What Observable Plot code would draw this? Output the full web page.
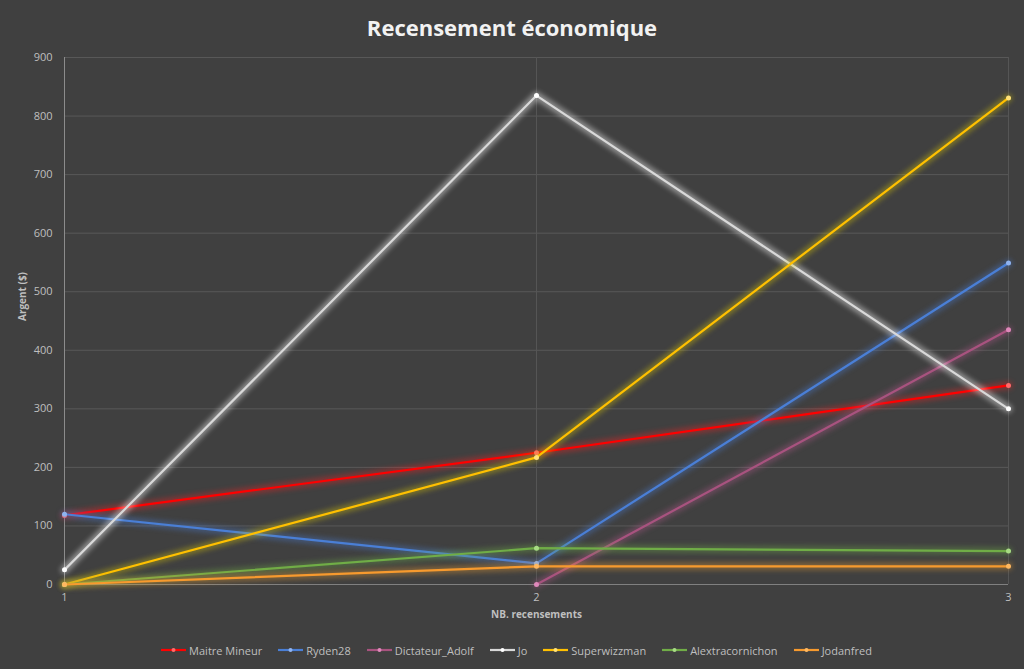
<!DOCTYPE html>
<html>
<head>
<meta charset="utf-8">
<script src="https://cdn.jsdelivr.net/npm/d3@7"></script>
<script src="https://cdn.jsdelivr.net/npm/@observablehq/plot@0.6"></script>
<style>
  html, body { margin: 0; padding: 0; background: #404040; }
  body { width: 1024px; height: 669px; overflow: hidden; font-family: "Open Sans", "Noto Sans", sans-serif; }
  #title { height: 50px; line-height: 54px; text-align: center; color: #f2f2f2; font-size: 22px; font-weight: bold; }
  #chart svg { display: block; }
  .glow { filter: blur(2.5px); }
  #legend { display: flex; justify-content: center; gap: 15px; height: 30px; align-items: center; color: #bfbfbf; font-size: 11px; padding-left: 8px; }
  #legend .item { display: flex; align-items: center; gap: 2px; }
</style>
</head>
<body>
<div id="title">Recensement économique</div>
<div id="chart"></div>
<div id="legend"></div>
<script>
const recensements = [1, 2, 3];
const series = ["Maitre Mineur", "Ryden28", "Dictateur_Adolf", "Jo", "Superwizzman", "Alextracornichon", "Jodanfred"];
const maitreMineur = [118, 225, 340];
const ryden28 = [120, 36, 549];
const dictateurAdolf = [null, 0, 435];
const jo = [25, 835, 300];
const superwizzman = [0, 217, 831];
const alextracornichon = [0, 62, 57];
const jodanfred = [0, 31, 31];
const yTicks = [0, 100, 200, 300, 400, 500, 600, 700, 800, 900];

const lineColors = ["#ff0000", "#4a7fd6", "#a8537f", "#d9d9d9", "#ffc000", "#70ad47", "#f79a2e"];
const dotColors = ["#ff6a6a", "#8fb3f0", "#e088bb", "#ffffff", "#ffe27a", "#a8dc84", "#ffb860"];
const glowColors = ["#ff2020", "#4a7fd6", "#b5598c", "#ffffff", "#e6d000", "#70ad47", "#f0a030"];

const valuesBySeries = [maitreMineur, ryden28, dictateurAdolf, jo, superwizzman, alextracornichon, jodanfred];
const data = [];
series.forEach((s, i) => {
  valuesBySeries[i].forEach((v, j) => {
    if (v != null) data.push({series: s, idx: i, x: recensements[j], y: v});
  });
});

const marks = [
  Plot.gridY(yTicks.slice(1), {stroke: "#585858", strokeOpacity: 1}),
  Plot.gridX([2, 3], {stroke: "#555555", strokeOpacity: 1}),
  Plot.ruleX([1], {stroke: "#8c8c8c"}),
  Plot.ruleY([0], {stroke: "#808080"}),
  Plot.axisY(yTicks, {tickSize: 0, tickPadding: 12, fill: "#bfbfbf", fontSize: 11, label: null}),
  Plot.axisX(recensements, {tickSize: 0, tickPadding: 9, fill: "#bfbfbf", fontSize: 11, label: null, tickFormat: d => String(d)}),
  Plot.text(["Argent ($)"], {frameAnchor: "left", dx: -42, rotate: -90, text: d => d, fill: "#bfbfbf", fontSize: 10, fontWeight: "bold"}),
  Plot.text(["NB. recensements"], {frameAnchor: "bottom", dy: 33, text: d => d, fill: "#bfbfbf", fontSize: 10, fontWeight: "bold"})
];
series.forEach((s, i) => {
  const d = data.filter(r => r.series === s);
  marks.push(Plot.line(d, {x: "x", y: "y", stroke: glowColors[i], strokeWidth: 8, strokeOpacity: i === 3 ? 0.4 : 0.35, className: "glow"}));
  marks.push(Plot.line(d, {x: "x", y: "y", stroke: lineColors[i], strokeWidth: 2.2}));
  marks.push(Plot.dot(d, {x: "x", y: "y", fill: dotColors[i], r: 2.5}));
});

const chart = Plot.plot({
  width: 1024,
  height: 585,
  marginTop: 7,
  marginBottom: 51,
  marginLeft: 64,
  marginRight: 16,
  style: {background: "#404040", color: "#bfbfbf", fontFamily: "'Open Sans', 'Noto Sans', sans-serif"},
  x: {domain: [1, 3]},
  y: {domain: [0, 900]},
  marks
});
document.getElementById("chart").appendChild(chart);

const legend = document.getElementById("legend");
series.forEach((s, i) => {
  const item = document.createElement("div");
  item.className = "item";
  item.innerHTML = `<svg width="27" height="8"><line x1="1" x2="26" y1="4" y2="4" stroke="${lineColors[i]}" stroke-width="2.2"/><circle cx="13.5" cy="4" r="2" fill="${dotColors[i]}"/></svg><span>${s}</span>`;
  legend.appendChild(item);
});
</script>
</body>
</html>
